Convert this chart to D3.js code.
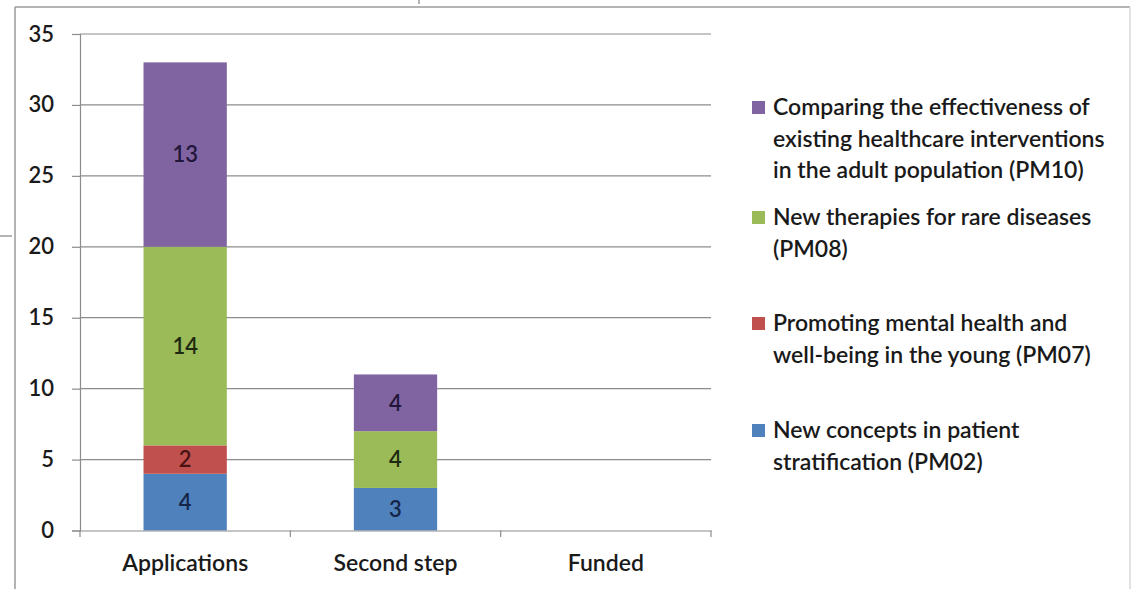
<!DOCTYPE html>
<html><head><meta charset="utf-8">
<script src="https://cdn.jsdelivr.net/npm/d3@7"></script>
<style>html,body{margin:0;padding:0;background:#fff;}svg{display:block;}</style>
</head><body>
<svg id="chart" width="1133" height="589"></svg>
<script>
const categories = ["Applications", "Second step", "Funded"];
const seriesKeys = ["PM02", "PM07", "PM08", "PM10"];
const PM02 = [4, 3, 0];
const PM07 = [2, 0, 0];
const PM08 = [14, 4, 0];
const PM10 = [13, 4, 0];
const yTicks = [0, 5, 10, 15, 20, 25, 30, 35];
const legendLabels = [
  ["PM10", ["Comparing the effectiveness of", "existing healthcare interventions", "in the adult population (PM10)"]],
  ["PM08", ["New therapies for rare diseases", "(PM08)"]],
  ["PM07", ["Promoting mental health and", "well-being in the young (PM07)"]],
  ["PM02", ["New concepts in patient", "stratification (PM02)"]]
];
const colors = {PM02: "#4F81BD", PM07: "#C0504D", PM08: "#9BBB59", PM10: "#8064A2"};
const labelColors = {PM02: "#14264a", PM07: "#4a1414", PM08: "#1e2a10", PM10: "#22163a"};

const rows = categories.map((c, i) => ({cat: c, PM02: PM02[i], PM07: PM07[i], PM08: PM08[i], PM10: PM10[i]}));
const svg = d3.select("#chart");
const FONT = "Lato, 'Open Sans', sans-serif";
const WEIGHT = 600;

// frame
const fr = svg.append("g").attr("stroke", "#9a9a9a").attr("stroke-width", 1.5).attr("fill", "none");
fr.append("line").attr("x1", 15).attr("x2", 1130).attr("y1", 7).attr("y2", 7);
fr.append("line").attr("x1", 15).attr("x2", 15).attr("y1", 7).attr("y2", 589);
fr.append("line").attr("x1", 1130).attr("x2", 1130).attr("y1", 7).attr("y2", 589).attr("stroke", "#d8d8d8");
fr.append("line").attr("x1", 0).attr("x2", 12).attr("y1", 236).attr("y2", 236);
fr.append("line").attr("x1", 419).attr("x2", 419).attr("y1", 0).attr("y2", 4);

const x = d3.scaleBand().domain(categories).range([80, 711]).paddingInner(0).paddingOuter(0);
const y = d3.scaleLinear().domain([0, 35]).range([530.5, 34]);

// gridlines
svg.append("g").selectAll("line").data(yTicks.filter(t => t > 0)).join("line")
  .attr("x1", 80).attr("x2", 711).attr("y1", d => y(d)).attr("y2", d => y(d))
  .attr("stroke", "#8c8c8c").attr("stroke-width", 1.2);

// y axis
const yAxis = svg.append("g").attr("transform", "translate(80,0)")
  .call(d3.axisLeft(y).tickValues(yTicks).tickSize(8).tickPadding(18));
yAxis.select(".domain").attr("stroke", "#8c8c8c").attr("stroke-width", 1.2);
yAxis.selectAll(".tick line").attr("stroke", "#8c8c8c").attr("stroke-width", 1.2);
yAxis.selectAll(".tick text").attr("font-family", FONT).attr("font-size", 22).attr("font-weight", WEIGHT).attr("fill", "#1a1a1a");

// bars
const stack = d3.stack().keys(seriesKeys)(rows);
const bw = x.bandwidth() * 0.396;
const g = svg.append("g");
stack.forEach(layer => {
  const key = layer.key;
  g.append("g").selectAll("rect").data(layer.filter(d => d[1] - d[0] > 0)).join("rect")
    .attr("x", d => x(d.data.cat) + (x.bandwidth() - bw) / 2)
    .attr("width", bw)
    .attr("y", d => y(d[1]))
    .attr("height", d => y(d[0]) - y(d[1]))
    .attr("fill", colors[key]);
  g.append("g").selectAll("text").data(layer.filter(d => d[1] - d[0] > 0)).join("text")
    .attr("x", d => x(d.data.cat) + x.bandwidth() / 2)
    .attr("y", d => (y(d[0]) + y(d[1])) / 2)
    .attr("dy", "0.36em")
    .attr("text-anchor", "middle")
    .attr("font-family", FONT).attr("font-size", 22).attr("font-weight", WEIGHT)
    .attr("fill", labelColors[key])
    .text(d => d[1] - d[0]);
});

// x axis
const xAxis = svg.append("g").attr("transform", "translate(0,530.5)")
  .call(d3.axisBottom(x).tickSize(0).tickPadding(24));
xAxis.select(".domain").attr("stroke", "#8c8c8c").attr("stroke-width", 1.2);
xAxis.selectAll(".tick text").attr("font-family", FONT).attr("font-size", 23).attr("font-weight", WEIGHT).attr("fill", "#1a1a1a");
svg.append("g").selectAll("line").data(categories.concat(["end"])).join("line")
  .attr("x1", (d, i) => i < categories.length ? x(d) : x.range()[1])
  .attr("x2", (d, i) => i < categories.length ? x(d) : x.range()[1])
  .attr("y1", 530.5).attr("y2", 537)
  .attr("stroke", "#8c8c8c").attr("stroke-width", 1.2);

// legend
const legendTops = [107, 217, 323, 430];
const lg = svg.append("g");
legendLabels.forEach(([key, lines], i) => {
  const cy = legendTops[i];
  lg.append("rect").attr("x", 752).attr("y", cy - 6).attr("width", 13).attr("height", 13).attr("fill", colors[key]);
  lines.forEach((t, j) => {
    lg.append("text").attr("x", 773).attr("y", cy + j * 31.5).attr("dy", "0.36em")
      .attr("font-family", FONT).attr("font-size", 23).attr("font-weight", WEIGHT).attr("fill", "#1a1a1a").text(t);
  });
});
</script>
</body></html>
